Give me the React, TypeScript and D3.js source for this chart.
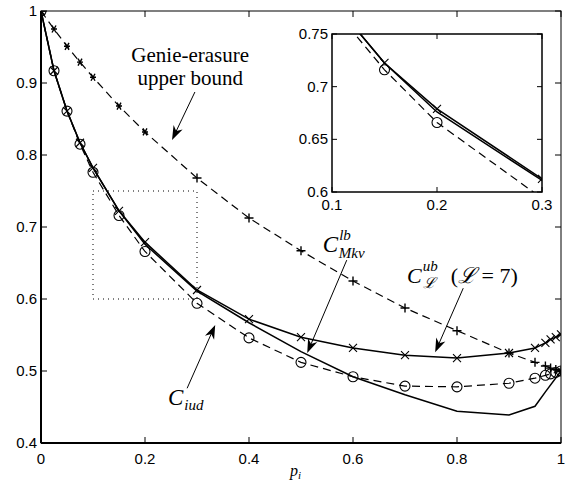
import React from 'react';
import * as d3 from 'd3';

// p_i grid
const pGrid = [0, 0.025, 0.05, 0.075, 0.1, 0.15, 0.2, 0.3, 0.4, 0.5, 0.6, 0.7, 0.8, 0.9, 0.95, 0.97, 0.98, 0.99, 1];

// Genie-erasure upper bound (dashed, +)
const genie = [1.0, 0.975, 0.951, 0.929, 0.908, 0.868, 0.832, 0.768, 0.7125, 0.667, 0.625, 0.5875, 0.556, 0.525, 0.512, 0.507, 0.504, 0.502, 0.5];
// C_L^ub (L=7) (solid, x)
const cUb = [1.0, 0.917, 0.861, 0.817, 0.782, 0.7225, 0.679, 0.6125, 0.572, 0.547, 0.532, 0.522, 0.518, 0.525, 0.532, 0.539, 0.544, 0.547, 0.551];
// C_iud (dashed, o)
const cIud = [1.0, 0.917, 0.861, 0.815, 0.776, 0.716, 0.666, 0.594, 0.546, 0.512, 0.492, 0.479, 0.478, 0.483, 0.49, 0.494, 0.496, 0.498, 0.5];
// C_Mkv^lb (solid, no marker)
const lbP = [0, 0.025, 0.05, 0.075, 0.1, 0.15, 0.2, 0.3, 0.4, 0.5, 0.6, 0.7, 0.8, 0.9, 0.95, 0.97, 1];
const cLb = [1.0, 0.917, 0.861, 0.817, 0.782, 0.7225, 0.676, 0.611, 0.567, 0.527, 0.492, 0.467, 0.444, 0.439, 0.451, 0.471, 0.5];

const xTicks = [0, 0.2, 0.4, 0.6, 0.8, 1];
const yTicks = [0.4, 0.5, 0.6, 0.7, 0.8, 0.9, 1];
const insetXTicks = [0.1, 0.2, 0.3];
const insetYTicks = [0.6, 0.65, 0.7, 0.75];

type Pt = [number, number];
const zip = (xs: number[], ys: number[]): Pt[] => xs.map((x, i) => [x, ys[i]]);

const W = 566, H = 483;
const SANS = 'Liberation Sans, Arial, sans-serif';
const SERIF = 'Liberation Serif, Times New Roman, serif';

function Markers({ pts, kind, x, y }: { pts: Pt[]; kind: string; x: (v: number) => number; y: (v: number) => number }) {
  return (
    <g stroke="#000" strokeWidth={1.1} fill="none">
      {pts.map(([px, py], i) => {
        const cx = x(px), cy = y(py);
        if (kind === 'o') return <circle key={i} cx={cx} cy={cy} r={5} />;
        if (kind === 'x') return <path key={i} d={`M${cx - 4},${cy - 4}L${cx + 4},${cy + 4}M${cx - 4},${cy + 4}L${cx + 4},${cy - 4}`} />;
        // '+' (drawn as '*' at small p where the markers blur together)
        const s = 4.5;
        let d = `M${cx - s},${cy}L${cx + s},${cy}M${cx},${cy - s}L${cx},${cy + s}`;
        if (px < 0.3 && px > 0) d = `M${cx - 3},${cy}L${cx + 3},${cy}M${cx - 2},${cy - 3.5}L${cx + 2},${cy + 3.5}M${cx - 2},${cy + 3.5}L${cx + 2},${cy - 3.5}`;
        return <path key={i} d={d} strokeWidth={1.4} />;
      })}
    </g>
  );
}

function Curves({ x, y }: { x: d3.ScaleLinear<number, number>; y: d3.ScaleLinear<number, number> }) {
  const line = d3.line<Pt>().x(d => x(d[0])).y(d => y(d[1]));
  return (
    <g fill="none" stroke="#000">
      <path d={line(zip(pGrid, genie)) || ''} strokeWidth={1.2} strokeDasharray="8,5" />
      <path d={line(zip(pGrid, cIud)) || ''} strokeWidth={1.2} strokeDasharray="8,5" />
      <path d={line(zip(pGrid, cUb)) || ''} strokeWidth={1.5} />
      <path d={line(zip(lbP, cLb)) || ''} strokeWidth={1.5} />
      <Markers pts={zip(pGrid, genie)} kind="+" x={x} y={y} />
      <Markers pts={zip(pGrid, cUb)} kind="x" x={x} y={y} />
      <Markers pts={zip(pGrid, cIud)} kind="o" x={x} y={y} />
    </g>
  );
}

function Arrow({ x1, y1, x2, y2 }: { x1: number; y1: number; x2: number; y2: number }) {
  const a = Math.atan2(y2 - y1, x2 - x1);
  const L = 14, w = 5;
  const bx = x2 - L * Math.cos(a), by = y2 - L * Math.sin(a);
  const nx = -Math.sin(a) * w, ny = Math.cos(a) * w;
  const mx = x2 - L * 0.7 * Math.cos(a), my = y2 - L * 0.7 * Math.sin(a);
  return (
    <g>
      <line x1={x1} y1={y1} x2={mx} y2={my} stroke="#000" strokeWidth={1} />
      <path d={`M${x2},${y2}L${bx + nx},${by + ny}L${mx},${my}L${bx - nx},${by - ny}Z`} fill="#000" />
    </g>
  );
}

export default function App() {
  const x = d3.scaleLinear().domain([0, 1]).range([41, 561]);
  const y = d3.scaleLinear().domain([0.4, 1]).range([443, 11]);
  const ix = d3.scaleLinear().domain([0.1, 0.3]).range([332, 542]);
  const iy = d3.scaleLinear().domain([0.6, 0.75]).range([192, 34]);
  const tk = 6;

  return (
    <svg width={W} height={H} style={{ position: 'absolute', left: 0, top: 0, background: '#fff' }}>
      <defs>
        <clipPath id="main"><rect x={41} y={11} width={520} height={432} /></clipPath>
        <clipPath id="inset"><rect x={332} y={34} width={210} height={158} /></clipPath>
      </defs>

      {/* main axes box and ticks */}
      <rect x={41} y={11} width={520} height={432} fill="none" stroke="#000" strokeWidth={1} />
      <line x1={41} y1={11} x2={41} y2={443} stroke="#000" strokeWidth={2} />
      <line x1={41} y1={443} x2={561} y2={443} stroke="#000" strokeWidth={2} />
      <g stroke="#000" strokeWidth={1}>
        {xTicks.map(t => (
          <g key={t}>
            <line x1={x(t)} x2={x(t)} y1={443} y2={443 - tk} />
            <line x1={x(t)} x2={x(t)} y1={11} y2={11 + tk} />
          </g>
        ))}
        {yTicks.map(t => (
          <g key={t}>
            <line x1={41} x2={41 + tk} y1={y(t)} y2={y(t)} />
            <line x1={561} x2={561 - tk} y1={y(t)} y2={y(t)} />
          </g>
        ))}
      </g>
      <g fontFamily={SANS} fontSize={15} fill="#000">
        {xTicks.map(t => (
          <text key={t} x={x(t)} y={464} textAnchor="middle">{d3.format('~g')(t)}</text>
        ))}
        {yTicks.map(t => (
          <text key={t} x={37} y={y(t) + 5} textAnchor="end">{d3.format('~g')(t)}</text>
        ))}
      </g>

      {/* zoom region */}
      <rect x={x(0.1)} y={y(0.75)} width={x(0.3) - x(0.1)} height={y(0.6) - y(0.75)} fill="none" stroke="#000" strokeWidth={1} strokeDasharray="1,4" />

      <g clipPath="url(#main)">
        <Curves x={x} y={y} />
      </g>

      {/* inset */}
      <rect x={332} y={34} width={210} height={158} fill="#fff" stroke="none" />
      <g clipPath="url(#inset)">
        <Curves x={ix} y={iy} />
      </g>
      <rect x={332} y={34} width={210} height={158} fill="none" stroke="#000" strokeWidth={1.5} />
      <g stroke="#000" strokeWidth={1}>
        {insetXTicks.map(t => (
          <g key={t}>
            <line x1={ix(t)} x2={ix(t)} y1={192} y2={187} />
            <line x1={ix(t)} x2={ix(t)} y1={34} y2={39} />
          </g>
        ))}
        {insetYTicks.map(t => (
          <g key={t}>
            <line x1={332} x2={337} y1={iy(t)} y2={iy(t)} />
            <line x1={542} x2={537} y1={iy(t)} y2={iy(t)} />
          </g>
        ))}
      </g>
      <g fontFamily={SANS} fontSize={15} fill="#000">
        {insetXTicks.map(t => (
          <text key={t} x={ix(t)} y={210} textAnchor="middle">{d3.format('~g')(t)}</text>
        ))}
        {insetYTicks.map(t => (
          <text key={t} x={328} y={iy(t) + 5} textAnchor="end">{d3.format('~g')(t)}</text>
        ))}
      </g>

      {/* annotations */}
      <g fontFamily={SERIF} fill="#000">
        <text x={x(0.287)} y={y(0.929)} fontSize={21} textAnchor="middle">Genie-erasure</text>
        <text x={x(0.287)} y={y(0.897)} fontSize={21} textAnchor="middle">upper bound</text>
        <text x={x(0.542)} y={y(0.665)} fontSize={23} fontStyle="italic">C
          <tspan fontSize={15} dx={1} dy={-12}>lb</tspan>
          <tspan fontSize={15} dx={-12} dy={18}>Mkv</tspan>
        </text>
        <text x={x(0.704)} y={y(0.622)} fontSize={22}><tspan fontStyle="italic">C</tspan>
          <tspan fontSize={15} fontStyle="italic" dx={1} dy={-12}>ub</tspan>
          <tspan fontSize={15} fontStyle="italic" dx={-15} dy={17}>ℒ</tspan>
          <tspan dx={16} dy={-5}>(</tspan><tspan fontStyle="italic">ℒ</tspan><tspan> = 7)</tspan>
        </text>
        <text x={x(0.244)} y={y(0.453)} fontSize={23} fontStyle="italic">C
          <tspan fontSize={15} dx={1} dy={5}>iud</tspan>
        </text>
        <text x={290} y={476} fontSize={16} fontStyle="italic">p<tspan fontSize={11} dy={3}>i</tspan></text>
      </g>
      <Arrow x1={x(0.296)} y1={y(0.8875)} x2={x(0.252)} y2={y(0.821)} />
      <Arrow x1={x(0.588)} y1={y(0.654)} x2={x(0.512)} y2={y(0.525)} />
      <Arrow x1={x(0.812)} y1={y(0.615)} x2={x(0.758)} y2={y(0.526)} />
      <Arrow x1={x(0.281)} y1={y(0.476)} x2={x(0.335)} y2={y(0.564)} />
    </svg>
  );
}
